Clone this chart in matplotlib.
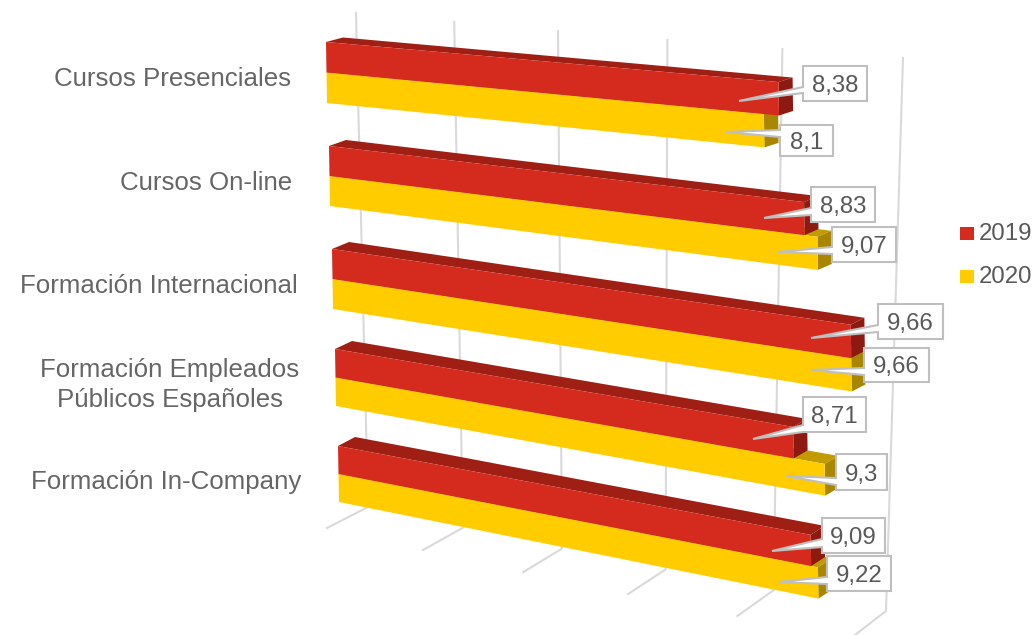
import matplotlib
matplotlib.use("Agg")
import matplotlib.pyplot as plt
from matplotlib.patches import Polygon, Rectangle

plt.rcParams['font.family'] = ['Liberation Sans', 'DejaVu Sans']

# chart values
categories = ["Cursos Presenciales", "Cursos On-line", "Formación Internacional",
              "Formación Empleados\nPúblicos Españoles", "Formación In-Company"]
values_2019 = [8.38, 8.83, 9.66, 8.71, 9.09]
values_2020 = [8.1, 9.07, 9.66, 9.3, 9.22]
series_names = ["2019", "2020"]
grid_ticks = [0, 2, 4, 6, 8, 10]

# perspective of every row, measured in pixels on the picture
row_x0 = [326, 329, 332, 335, 338]
row_y0 = [42, 146, 249, 349, 446]
row_scale = [54.0, 53.8, 53.7, 52.6, 52.0]
row_slope = [0.0885, 0.118, 0.146, 0.170, 0.188]
row_height = [30.5, 30, 30, 28.5, 28]
row_depth_y = [-4.5, -6, -7, -8, -9]

red, red_top, red_side = "#D52B1E", "#A01F14", "#8C1A10"
yellow, yellow_top, yellow_side = "#FFCC00", "#C29B00", "#A98600"
grey_text = "#595959"
grid_col = "#D9D9D9"
box_col = "#BFBFBF"

# label boxes: x0, x1, y0, y1, tip x, tip y, wedge base top, wedge base bottom
boxes_2019 = [(803, 867, 66, 101, 739, 101, 87, 93),
              (811, 875, 187, 222, 764, 218, 208, 215),
              (878, 943, 304, 339, 811, 338, 325, 332),
              (803, 866, 397, 432, 753, 439, 425, 432),
              (822, 885, 518, 553, 772, 551, 539, 547)]
boxes_2020 = [(780, 833, 125, 156, 726, 132, 130, 137),
              (832, 896, 227, 262, 778, 252, 247, 254),
              (864, 929, 348, 382, 811, 370, 368, 375),
              (836, 887, 454, 490, 786, 476, 478, 485),
              (827, 891, 556, 591, 779, 582, 577, 584)]

cat_pos = [(172, 79), (206.5, 183), (158.5, 286), (170, 385), (166, 482)]


def project(row, v, level=0):
    # level 0 = top of red, 1 = red/yellow joint, 2 = bottom of yellow
    x = row_x0[row] + row_scale[row] * v + level * 0.5
    y = row_y0[row] + row_slope[row] * row_scale[row] * v
    y += level * (row_height[row] + 0.35 * v)
    return x, y


def depth(row, v):
    return 17 - 0.35 * v, row_depth_y[row]


def draw_bar(ax, row, v, level, front, top, side):
    a = project(row, 0, level)
    b = project(row, v, level)
    c = project(row, v, level + 1)
    d = project(row, 0, level + 1)
    dx0, dy0 = depth(row, 0)
    dx1, dy1 = depth(row, v)
    ax.add_patch(Polygon([a, b, (b[0] + dx1, b[1] + dy1), (a[0] + dx0, a[1] + dy0)], fc=top, ec="none"))
    ax.add_patch(Polygon([b, c, (c[0] + dx1, c[1] + dy1), (b[0] + dx1, b[1] + dy1)], fc=side, ec="none"))
    ax.add_patch(Polygon([a, b, c, d], fc=front, ec="none"))


def draw_label(ax, v, box):
    x0, x1, y0, y1, tx, ty, b0, b1 = box
    pts = [(x0, y0), (x1, y0), (x1, y1), (x0, y1), (x0, b1), (tx, ty), (x0, b0)]
    ax.add_patch(Polygon(pts, fc="white", ec=box_col, lw=1.5, joinstyle="miter", zorder=5))
    ax.text((x0 + x1) / 2, (y0 + y1) / 2 + 2.5, str(v).replace(".", ","), ha="center", va="center",
            fontsize=17.3, color=grey_text, zorder=6)


fig = plt.figure(figsize=(10.35, 6.35), dpi=100)
ax = fig.add_axes([0, 0, 1, 1])
ax.set_xlim(0, 1035)
ax.set_ylim(635, 0)
ax.axis("off")

# back wall and floor lines
for t in grid_ticks:
    top_x = 356 + 47.7 * t + 0.7 * t ** 2
    top_y = 13 + 4.5 * t
    low_x = 368 + 46.3 * t + 0.55 * t ** 2
    low_y = 507 + 10.4 * t
    ax.plot([top_x, low_x, low_x - 41 + 0.6 * t], [top_y, low_y, low_y + 21 + 0.6 * t],
            color=grid_col, lw=1.5, solid_joinstyle="miter", zorder=0)

for i in range(len(categories)):
    draw_bar(ax, i, values_2020[i], 1, yellow, yellow_top, yellow_side)
    draw_bar(ax, i, values_2019[i], 0, red, red_top, red_side)

for i in range(len(categories)):
    draw_label(ax, values_2019[i], boxes_2019[i])
    draw_label(ax, values_2020[i], boxes_2020[i])
    ax.text(cat_pos[i][0], cat_pos[i][1], categories[i], ha="center", va="center",
            fontsize=18.6, color="#666666", linespacing=1.29)

# legend
for name, col, y in zip(series_names, [red, yellow], [233, 276]):
    ax.add_patch(Rectangle((960, y - 6.5), 14, 13, fc=col, ec="none"))
    ax.text(979, y + 1, name, ha="left", va="center", fontsize=17.3, color=grey_text)

fig.savefig("out.png", dpi=100)
